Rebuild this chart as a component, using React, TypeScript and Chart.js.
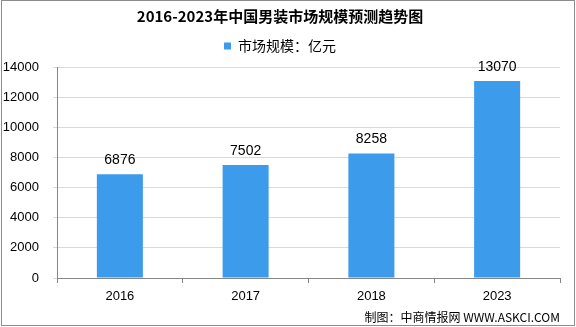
import React, { useEffect, useRef } from "react";
import { Chart, registerables } from "chart.js";

Chart.register(...registerables);

const categories = ["2016", "2017", "2018", "2023"];
const marketSize = [6876, 7502, 8258, 13070];
const seriesName = "市场规模：亿元";
const titleText = "2016-2023年中国男装市场规模预测趋势图";
const sourceText = "制图：中商情报网 WWW.ASKCI.COM";

const CJK = '"Noto Sans CJK SC", "Noto Sans", sans-serif';
const NUM = '"Liberation Sans", Arial, sans-serif';

const extras = {
  id: "extras",
  afterLayout(chart: any) {
    if (chart.legend) {
      chart.legend.top -= 4;
      chart.legend.bottom -= 4;
    }
  },
  afterDatasetsDraw(chart: any) {
    const ctx = chart.ctx;
    const meta = chart.getDatasetMeta(0);
    ctx.save();
    ctx.fillStyle = "#000";
    ctx.font = `14px ${NUM}`;
    ctx.textAlign = "center";
    ctx.textBaseline = "middle";
    meta.data.forEach((bar: any, i: number) => {
      ctx.fillText(String(marketSize[i]), bar.x, bar.y - 14);
    });
    ctx.restore();
  },
  afterDraw(chart: any) {
    const ctx = chart.ctx;
    ctx.save();
    ctx.fillStyle = "#000";
    ctx.font = `12px ${CJK}`;
    ctx.textAlign = "right";
    ctx.textBaseline = "middle";
    ctx.fillText(sourceText, 560, 317);
    ctx.strokeStyle = "#8c8c8c";
    ctx.lineWidth = 1;
    ctx.strokeRect(1.5, 0.5, 573, 325);
    ctx.restore();
  },
};

export default function App() {
  const ref = useRef<HTMLCanvasElement>(null);
  useEffect(() => {
    const chart = new Chart(ref.current!, {
      type: "bar",
      data: {
        labels: categories,
        datasets: [
          {
            label: seriesName,
            data: marketSize,
            backgroundColor: "#3d9bec",
            categoryPercentage: 1,
            barPercentage: 0.366,
          },
        ],
      },
      options: {
        animation: false,
        responsive: false,
        maintainAspectRatio: false,
        layout: { padding: { left: 0, right: 16, top: 0, bottom: 0 } },
        plugins: {
          title: {
            display: true,
            text: titleText,
            color: "#000",
            font: { family: CJK, size: 15, weight: "bold" },
            padding: { top: 7, bottom: 1 },
          },
          legend: {
            display: true,
            labels: {
              boxWidth: 7,
              boxHeight: 7,
              color: "#000",
              font: { family: CJK, size: 14 },
              padding: 17,
            },
          },
          tooltip: { enabled: false },
        },
        scales: {
          x: {
            offset: true,
            grid: {
              offset: true,
              drawOnChartArea: false,
              drawTicks: true,
              tickLength: 5,
              color: "#868686",
            },
            border: { color: "#868686" },
            ticks: {
              color: "#000",
              font: { family: NUM, size: 13 },
              padding: 6,
            },
            afterFit(scale: any) {
              scale.height = 49;
            },
          },
          y: {
            min: 0,
            max: 14000,
            grid: { color: "#d9d9d9", tickLength: 4 },
            border: { color: "#868686" },
            ticks: {
              stepSize: 2000,
              color: "#000",
              font: { family: NUM, size: 13 },
              padding: 14,
              callback: (v: any) => String(v),
            },
            afterFit(scale: any) {
              scale.width = 57;
            },
          },
        },
      },
      plugins: [extras],
    });
    return () => chart.destroy();
  }, []);
  return (
    <div style={{ position: "absolute", left: 0, top: 0, width: 576, height: 327, background: "#fff" }}>
      <canvas ref={ref} width={576} height={327} />
    </div>
  );
}
